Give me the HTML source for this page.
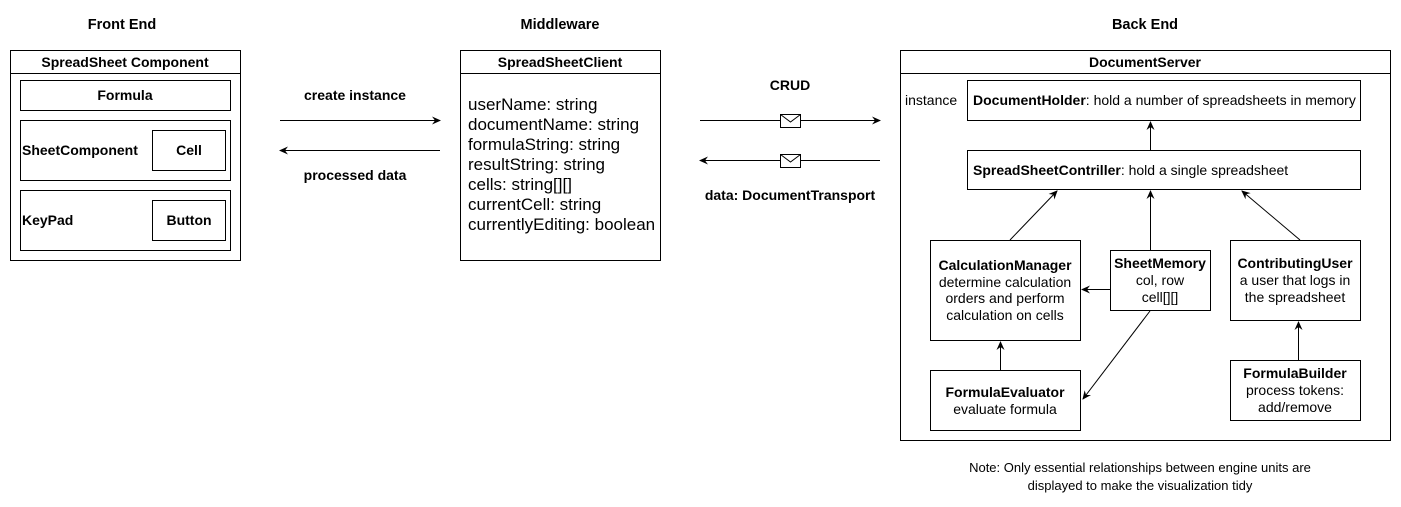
<!DOCTYPE html><html><head><style>body{margin:0;background:#fff}svg text{font-family:"Liberation Sans",Arial,sans-serif;font-size:14px;fill:#000}svg text.b,tspan.b{font-weight:bold}svg text.h{font-size:14.5px}svg text.f{font-size:17px}</style></head><body>
<svg width="1401" height="502" xmlns="http://www.w3.org/2000/svg">
<defs><marker id="a" markerWidth="10" markerHeight="10" refX="8" refY="5" orient="auto" markerUnits="userSpaceOnUse"><path d="M0,1 L9,5 L0,9 L3,5 Z" fill="#000"/></marker></defs>
<g fill="none" stroke="#000" stroke-width="1">
<rect x="10.5" y="50.5" width="230" height="210"/><line x1="10" y1="73.5" x2="240" y2="73.5"/>
<rect x="20.5" y="80.5" width="210" height="30"/>
<rect x="20.5" y="120.5" width="210" height="60"/><rect x="152.5" y="130.5" width="73" height="40"/>
<rect x="20.5" y="190.5" width="210" height="60"/><rect x="152.5" y="200.5" width="73" height="40"/>
<rect x="460.5" y="50.5" width="200" height="210"/><line x1="460" y1="73.5" x2="660" y2="73.5"/>
<rect x="900.5" y="50.5" width="490" height="390"/><line x1="900" y1="73.5" x2="1390" y2="73.5"/>
<rect x="967.5" y="80.5" width="393" height="40"/>
<rect x="967.5" y="150.5" width="393" height="39"/>
<rect x="930.5" y="240.5" width="150" height="100"/>
<rect x="1110.5" y="250.5" width="100" height="60"/>
<rect x="1230.5" y="240.5" width="130" height="80"/>
<rect x="930.5" y="370.5" width="150" height="60"/>
<rect x="1230.5" y="360.5" width="130" height="60"/>
<line x1="280" y1="120.5" x2="440" y2="120.5" marker-end="url(#a)"/>
<line x1="440" y1="150.5" x2="280" y2="150.5" marker-end="url(#a)"/>
<line x1="700" y1="120.5" x2="880" y2="120.5" marker-end="url(#a)"/>
<line x1="880" y1="160.5" x2="700" y2="160.5" marker-end="url(#a)"/>
<rect x="780.5" y="114.5" width="20" height="13" fill="#fff"/><path d="M780.5,114.5 L790.5,122 L800.5,114.5"/>
<rect x="780.5" y="154.5" width="20" height="13" fill="#fff"/><path d="M780.5,154.5 L790.5,162 L800.5,154.5"/>
<line x1="1150.5" y1="150" x2="1150.5" y2="122" marker-end="url(#a)"/>
<line x1="1010" y1="240" x2="1057" y2="191" marker-end="url(#a)"/>
<line x1="1150.5" y1="250" x2="1150.5" y2="191" marker-end="url(#a)"/>
<line x1="1300" y1="240" x2="1242" y2="191" marker-end="url(#a)"/>
<line x1="1110" y1="289.5" x2="1082" y2="289.5" marker-end="url(#a)"/>
<line x1="1150" y1="311" x2="1083" y2="399" marker-end="url(#a)"/>
<line x1="1000.5" y1="370" x2="1000.5" y2="342" marker-end="url(#a)"/>
<line x1="1298.5" y1="360" x2="1298.5" y2="322" marker-end="url(#a)"/>
</g>
<g text-anchor="middle">
<text x="122" y="29" class="b h">Front End</text><text x="560" y="29" class="b h">Middleware</text><text x="1145" y="29" class="b h">Back End</text>
<text x="125" y="67" class="b">SpreadSheet  Component</text>
<text x="125" y="100" class="b">Formula</text>
<text x="189" y="155" class="b">Cell</text><text x="189" y="225" class="b">Button</text>
<text x="560" y="67" class="b">SpreadSheetClient</text>
<text x="355" y="100" class="b">create instance</text><text x="355" y="180" class="b">processed data</text>
<text x="790" y="90" class="b">CRUD</text><text x="790" y="200" class="b">data: DocumentTransport</text>
<text x="1145" y="67" class="b">DocumentServer</text>
<text x="1005" y="270" class="b">CalculationManager</text><text x="1005" y="287">determine calculation</text><text x="1005" y="303">orders and perform</text><text x="1005" y="320">calculation on cells</text>
<text x="1160" y="268" class="b">SheetMemory</text><text x="1160" y="285">col, row</text><text x="1160" y="302">cell[][]</text>
<text x="1295" y="268" class="b">ContributingUser</text><text x="1295" y="285">a user that logs in</text><text x="1295" y="302">the spreadsheet</text>
<text x="1005" y="397" class="b">FormulaEvaluator</text><text x="1005" y="414">evaluate formula</text>
<text x="1295" y="378" class="b">FormulaBuilder</text><text x="1295" y="395">process tokens:</text><text x="1295" y="412">add/remove</text>
<text x="1140" y="472" style="font-size:13px">Note: Only essential relationships between engine units are</text>
<text x="1140" y="490" style="font-size:13px">displayed to make the visualization tidy</text>
</g>
<text x="22" y="155" class="b">SheetComponent</text><text x="22" y="225" class="b">KeyPad</text>
<text x="468" y="110" class="f">userName: string</text><text x="468" y="130" class="f">documentName: string</text><text x="468" y="150" class="f">formulaString: string</text><text x="468" y="170" class="f">resultString: string</text><text x="468" y="190" class="f">cells: string[][]</text><text x="468" y="210" class="f">currentCell: string</text><text x="468" y="230" class="f">currentlyEditing: boolean</text>
<text x="905" y="105">instance</text>
<text x="973" y="105"><tspan class="b">DocumentHolder</tspan>: hold a number of spreadsheets in memory</text>
<text x="973" y="175"><tspan class="b">SpreadSheetContriller</tspan>: hold a single spreadsheet</text>
</svg></body></html>
